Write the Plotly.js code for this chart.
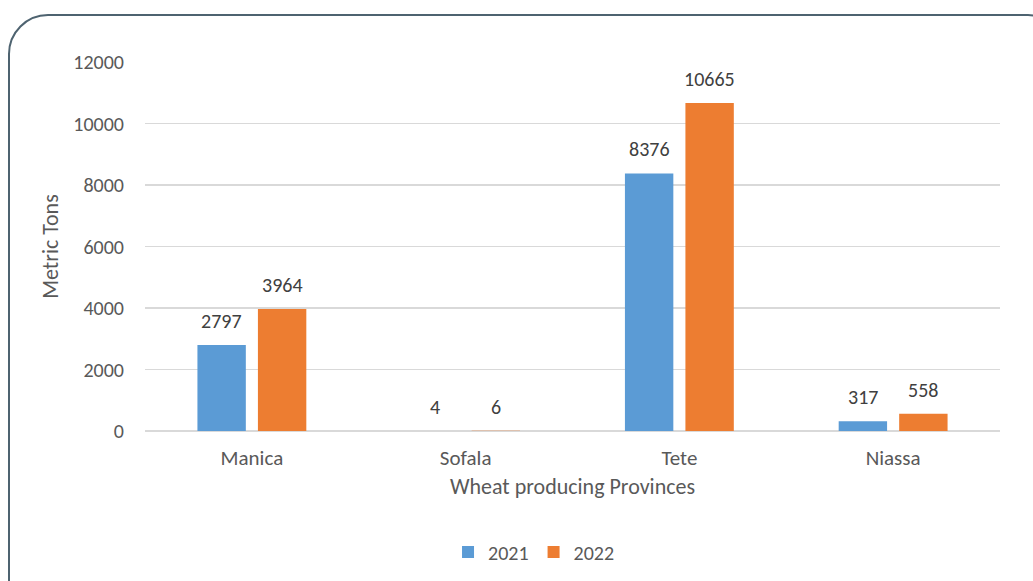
<!DOCTYPE html>
<html>
<head>
<meta charset="utf-8">
<script src="https://cdn.plot.ly/plotly-3.0.1.min.js"></script>
<style>
html,body{margin:0;padding:0;background:#fff;overflow:hidden;width:1033px;height:581px;}
#frame{position:absolute;left:8px;top:14px;width:1060px;height:620px;border:2px solid #4e6370;border-radius:40px;box-sizing:border-box;pointer-events:none;}
#chart{position:absolute;left:0;top:0;width:1033px;height:581px;}
</style>
</head>
<body>
<div id="chart"></div>
<div id="frame"></div>
<script>
const provinces = ["Manica", "Sofala", "Tete", "Niassa"];
const values2021 = [2797, 4, 8376, 317];
const values2022 = [3964, 6, 10665, 558];
const seriesNames = ["2021", "2022"];
const yTicks = [0, 2000, 4000, 6000, 8000, 10000, 12000];

const font = "Carlito, 'Open Sans', 'Liberation Sans', sans-serif";
const textColor = "#595959";
const labelColor = "#404040";

const traces = [
  {type: "bar", name: seriesNames[0], x: provinces, y: values2021, marker: {color: "#5b9bd5"}},
  {type: "bar", name: seriesNames[1], x: provinces, y: values2022, marker: {color: "#ed7d31"}}
];

const annotations = [];
[values2021, values2022].forEach((vals, s) => {
  vals.forEach((v, i) => {
    annotations.push({
      x: provinces[i], y: v, xref: "x", yref: "y",
      text: String(v), showarrow: false,
      xanchor: "center", yanchor: "bottom",
      xshift: s === 0 ? -30.25 : 30.25, yshift: 10,
      font: {size: 20, color: labelColor, family: font}
    });
  });
});

const layout = {
  width: 1033, height: 581,
  margin: {l: 145, r: 33, t: 62, b: 150, autoexpand: false},
  paper_bgcolor: "rgba(0,0,0,0)", plot_bgcolor: "#fff",
  font: {family: font, color: textColor, size: 20},
  barmode: "group", bargap: 0.434, bargroupgap: 0.2,
  showlegend: true,
  legend: {orientation: "h", x: 0.455, xanchor: "center", y: -0.328, yanchor: "middle",
           font: {size: 20, color: textColor}, itemwidth: 30},
  annotations: annotations,
  xaxis: {title: {text: "Wheat producing Provinces", font: {size: 22, color: textColor}, standoff: 8},
          showline: false, ticks: "outside", ticklen: 8, tickcolor: "rgba(0,0,0,0)",
          tickfont: {size: 21, color: textColor}, automargin: false},
  yaxis: {title: {text: "Metric Tons", font: {size: 22, color: textColor}, standoff: 8},
          range: [0, 12000], tickvals: yTicks, ticktext: yTicks.map(String),
          gridcolor: "#d9d9d9", gridwidth: 1.5, zeroline: true, zerolinecolor: "#d9d9d9", zerolinewidth: 1.5,
          ticks: "outside", ticklen: 16, tickcolor: "rgba(0,0,0,0)",
          tickfont: {size: 20, color: textColor}, automargin: false}
};

Plotly.newPlot("chart", traces, layout, {displayModeBar: false, staticPlot: true});
</script>
</body>
</html>
